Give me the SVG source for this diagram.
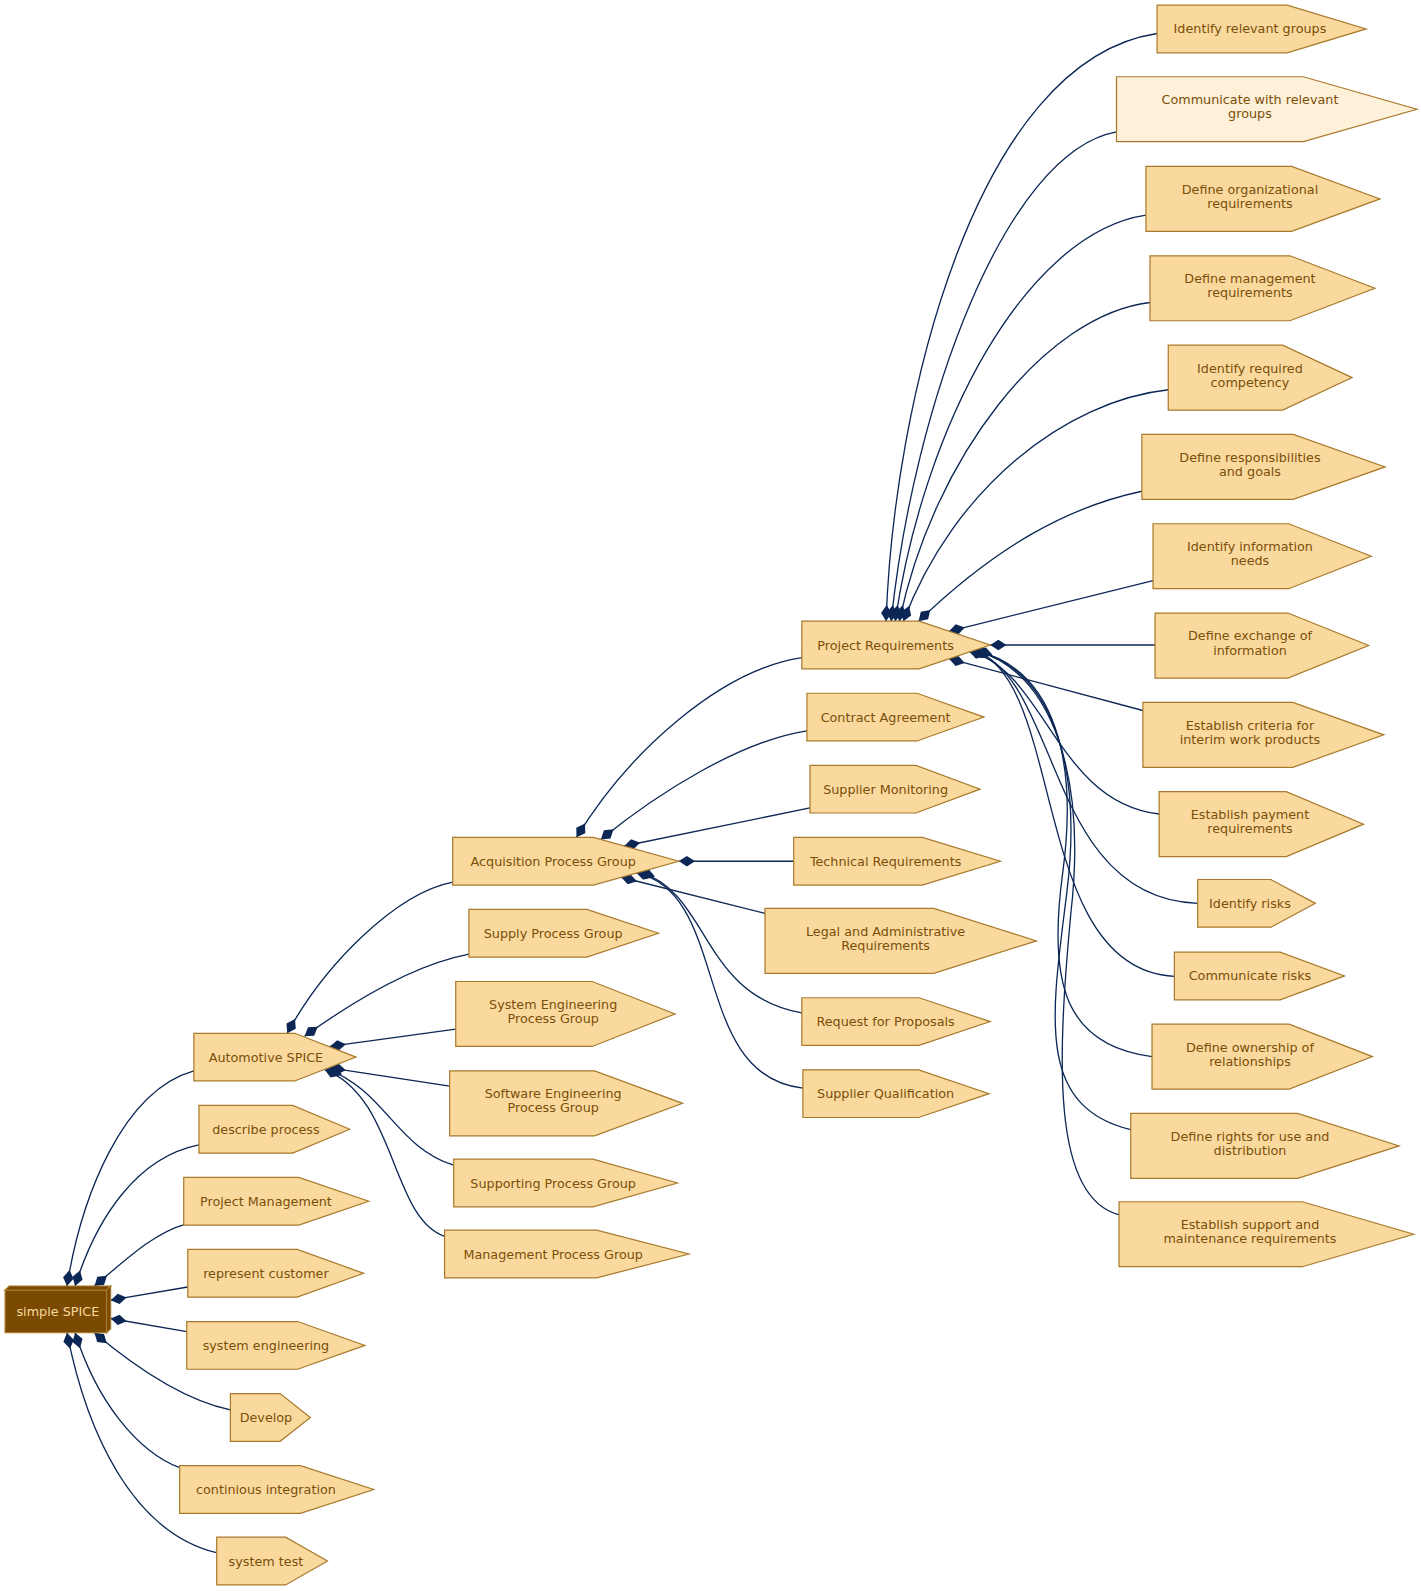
<svg xmlns="http://www.w3.org/2000/svg" width="1421" height="1591" viewBox="0 0 1421 1591">
<style>
.n polygon{fill:#fad99e;stroke:#a87a2c;stroke-width:1.2}
.n.lt polygon{fill:#fff0d9}
.n text{font-family:"DejaVu Sans",sans-serif;font-size:12.6px;fill:#7a4f08;text-anchor:middle}
#simple polygon{fill:#7a4a00;stroke:#a87a2c;stroke-width:1.2}
#simple text{fill:#f6d9a0}
#edges path{fill:none;stroke:#0c2756;stroke-width:1.3;marker-start:url(#dia)}
</style>
<defs>
<marker id="dia" markerUnits="userSpaceOnUse" markerWidth="17" markerHeight="12" refX="0" refY="6" orient="auto" viewBox="0 0 17 12"><polygon points="0,6 8,0.8 16,6 8,11.2" fill="#0c2756"/></marker>
</defs>
<rect width="1421" height="1591" fill="#ffffff"/>
<g transform="scale(1.015)">
<g id="edges">
<path d="M66,1267 C80,1180 120,1075 191,1055"/>
<path d="M74,1267 C95,1200 135,1140 196,1128"/>
<path d="M93,1267 C120,1245 150,1215 183,1206"/>
<path d="M109,1281 L185,1268"/>
<path d="M109,1299 L184,1312"/>
<path d="M93,1313 C125,1340 175,1378 227,1389"/>
<path d="M74,1313 C95,1380 135,1430 177,1446"/>
<path d="M66,1313 C85,1410 130,1510 214,1530"/>
<path d="M283,1018 C320,950 390,880 446,869"/>
<path d="M300,1021 C350,985 410,950 462,940"/>
<path d="M325,1031 L449,1014"/>
<path d="M325,1052 L443,1070"/>
<path d="M322,1053 C380,1075 390,1130 447,1148"/>
<path d="M320,1054 C390,1080 385,1200 438,1218"/>
<path d="M568,825 C620,740 710,660 790,648"/>
<path d="M592,827 C650,780 730,730 795,720"/>
<path d="M615,833.5 L798,796"/>
<path d="M668.75,848.5 L782,848.5"/>
<path d="M612,864.3 L754,900"/>
<path d="M630,859 C700,880 690,980 790,998"/>
<path d="M627,860 C720,880 680,1060 791,1072"/>
<path d="M873,612 C880,400 960,60 1140,33"/>
<path d="M878,612 C900,400 990,150 1100,130"/>
<path d="M882,612 C910,420 1010,230 1129,212"/>
<path d="M886,612 C920,450 1030,310 1133,298"/>
<path d="M890,612 C940,480 1050,395 1151,384"/>
<path d="M905,612 C980,540 1050,500 1125,484"/>
<path d="M935,622 L1136,572"/>
<path d="M975.6,635.5 L1138,635.5"/>
<path d="M935,649 L1126,700"/>
<path d="M955,642 C1030,660 1040,790 1142,802"/>
<path d="M958,641 C1045,665 1030,885 1180,890"/>
<path d="M960,641 C1050,670 1015,955 1157,962"/>
<path d="M962,641 C1040,660 1062,750 1047,860 C1032,970 1050,1030 1135,1041"/>
<path d="M962,641 C1040,662 1066,760 1051,880 C1036,1000 1020,1090 1114,1113"/>
<path d="M962,641 C1040,664 1070,770 1055,900 C1042,1040 1035,1180 1103,1197"/>
</g>
<g id="simple" class="n">
<polygon points="5,1271 105,1271 105,1313 5,1313"/>
<polygon points="5,1271 9,1267 109,1267 105,1271"/>
<polygon points="105,1271 109,1267 109,1309 105,1313"/>
<text x="57" y="1296.5">simple SPICE</text>
</g>
<g id="automotive" class="n"><polygon points="191,1018 290.4,1018 350.75,1041.5 290.4,1065 191,1065"/><text x="262" y="1046">Automotive SPICE</text></g>
<g id="describe" class="n"><polygon points="196,1089 288.4,1089 344.5,1112.5 288.4,1136 196,1136"/><text x="262" y="1117">describe process</text></g>
<g id="projmgmt" class="n"><polygon points="181,1160 294.4,1160 363.25,1183.5 294.4,1207 181,1207"/><text x="262" y="1188">Project Management</text></g>
<g id="represent" class="n"><polygon points="185,1231 292.8,1231 358.25,1254.5 292.8,1278 185,1278"/><text x="262" y="1259">represent customer</text></g>
<g id="syseng" class="n"><polygon points="184,1302 293.2,1302 359.5,1325.5 293.2,1349 184,1349"/><text x="262" y="1330">system engineering</text></g>
<g id="develop" class="n"><polygon points="227,1373 276,1373 305.75,1396.5 276,1420 227,1420"/><text x="262" y="1401">Develop</text></g>
<g id="ci" class="n"><polygon points="177,1444 296,1444 368.25,1467.5 296,1491 177,1491"/><text x="262" y="1472">continious integration</text></g>
<g id="systest" class="n"><polygon points="213.5,1514.5 281.4,1514.5 322.6,1538 281.4,1561.5 213.5,1561.5"/><text x="262" y="1542.5">system test</text></g>
<g id="acq" class="n"><polygon points="446,825 584.6,825 668.75,848.5 584.6,872 446,872"/><text x="545" y="853">Acquisition Process Group</text></g>
<g id="supply" class="n"><polygon points="462,896 578.2,896 648.75,919.5 578.2,943 462,943"/><text x="545" y="924">Supply Process Group</text></g>
<g id="syspg" class="n"><polygon points="449,967 583.4,967 665,999 583.4,1031 449,1031"/><text x="545" y="994">System Engineering</text><text x="545" y="1008">Process Group</text></g>
<g id="swpg" class="n"><polygon points="443,1055 585.8,1055 672.5,1087 585.8,1119 443,1119"/><text x="545" y="1082">Software Engineering</text><text x="545" y="1096">Process Group</text></g>
<g id="suppg" class="n"><polygon points="447,1142 584.2,1142 667.5,1165.5 584.2,1189 447,1189"/><text x="545" y="1170">Supporting Process Group</text></g>
<g id="mgmtpg" class="n"><polygon points="438,1212 587.8,1212 678.75,1235.5 587.8,1259 438,1259"/><text x="545" y="1240">Management Process Group</text></g>
<g id="projreq" class="n"><polygon points="790,612 905.5,612 975.6,635.5 905.5,659 790,659"/><text x="872.5" y="640">Project Requirements</text></g>
<g id="contract" class="n"><polygon points="795,683 903.5,683 969.4,706.5 903.5,730 795,730"/><text x="872.5" y="711">Contract Agreement</text></g>
<g id="supmon" class="n"><polygon points="798,754 902.3,754 965.6,777.5 902.3,801 798,801"/><text x="872.5" y="782">Supplier Monitoring</text></g>
<g id="techreq" class="n"><polygon points="782,825 908.7,825 985.6,848.5 908.7,872 782,872"/><text x="872.5" y="853">Technical Requirements</text></g>
<g id="legal" class="n"><polygon points="753.7,895 920,895 1021,927 920,959 753.7,959"/><text x="872.5" y="922">Legal and Administrative</text><text x="872.5" y="936">Requirements</text></g>
<g id="rfp" class="n"><polygon points="790,983 905.5,983 975.6,1006.5 905.5,1030 790,1030"/><text x="872.5" y="1011">Request for Proposals</text></g>
<g id="supqual" class="n"><polygon points="791,1054 905.1,1054 974.4,1077.5 905.1,1101 791,1101"/><text x="872.5" y="1082">Supplier Qualification</text></g>
<g id="r1" class="n"><polygon points="1140,5 1268.1,5 1345.9,28.5 1268.1,52 1140,52"/><text x="1231.5" y="33">Identify relevant groups</text></g>
<g id="r2" class="n lt"><polygon points="1100,75.6 1284.1,75.6 1395.9,107.6 1284.1,139.6 1100,139.6"/><text x="1231.5" y="102.6">Communicate with relevant</text><text x="1231.5" y="116.6">groups</text></g>
<g id="r3" class="n"><polygon points="1129,164 1272.5,164 1359.6,196 1272.5,228 1129,228"/><text x="1231.5" y="191">Define organizational</text><text x="1231.5" y="205">requirements</text></g>
<g id="r4" class="n"><polygon points="1133,252 1270.9,252 1354.6,284 1270.9,316 1133,316"/><text x="1231.5" y="279">Define management</text><text x="1231.5" y="293">requirements</text></g>
<g id="r5" class="n"><polygon points="1151,340 1263.7,340 1332.1,372 1263.7,404 1151,404"/><text x="1231.5" y="367">Identify required</text><text x="1231.5" y="381">competency</text></g>
<g id="r6" class="n"><polygon points="1125,428 1274.1,428 1364.6,460 1274.1,492 1125,492"/><text x="1231.5" y="455">Define responsibilities</text><text x="1231.5" y="469">and goals</text></g>
<g id="r7" class="n"><polygon points="1136,516 1269.7,516 1350.9,548 1269.7,580 1136,580"/><text x="1231.5" y="543">Identify information</text><text x="1231.5" y="557">needs</text></g>
<g id="r8" class="n"><polygon points="1138,604 1268.9,604 1348.4,636 1268.9,668 1138,668"/><text x="1231.5" y="631">Define exchange of</text><text x="1231.5" y="645">information</text></g>
<g id="r9" class="n"><polygon points="1126,692 1273.7,692 1363.4,724 1273.7,756 1126,756"/><text x="1231.5" y="719">Establish criteria for</text><text x="1231.5" y="733">interim work products</text></g>
<g id="r10" class="n"><polygon points="1142,780 1267.3,780 1343.4,812 1267.3,844 1142,844"/><text x="1231.5" y="807">Establish payment</text><text x="1231.5" y="821">requirements</text></g>
<g id="r11" class="n"><polygon points="1180,866.5 1252.1,866.5 1295.9,890 1252.1,913.5 1180,913.5"/><text x="1231.5" y="894.5">Identify risks</text></g>
<g id="r12" class="n"><polygon points="1157,938 1261.3,938 1324.6,961.5 1261.3,985 1157,985"/><text x="1231.5" y="966">Communicate risks</text></g>
<g id="r13" class="n"><polygon points="1135,1009 1270.1,1009 1352.1,1041 1270.1,1073 1135,1073"/><text x="1231.5" y="1036">Define ownership of</text><text x="1231.5" y="1050">relationships</text></g>
<g id="r14" class="n"><polygon points="1114,1097 1278.5,1097 1378.4,1129 1278.5,1161 1114,1161"/><text x="1231.5" y="1124">Define rights for use and</text><text x="1231.5" y="1138">distribution</text></g>
<g id="r15" class="n"><polygon points="1102.5,1184 1283.1,1184 1392.8,1216 1283.1,1248 1102.5,1248"/><text x="1231.5" y="1211">Establish support and</text><text x="1231.5" y="1225">maintenance requirements</text></g>
</g>
</svg>
